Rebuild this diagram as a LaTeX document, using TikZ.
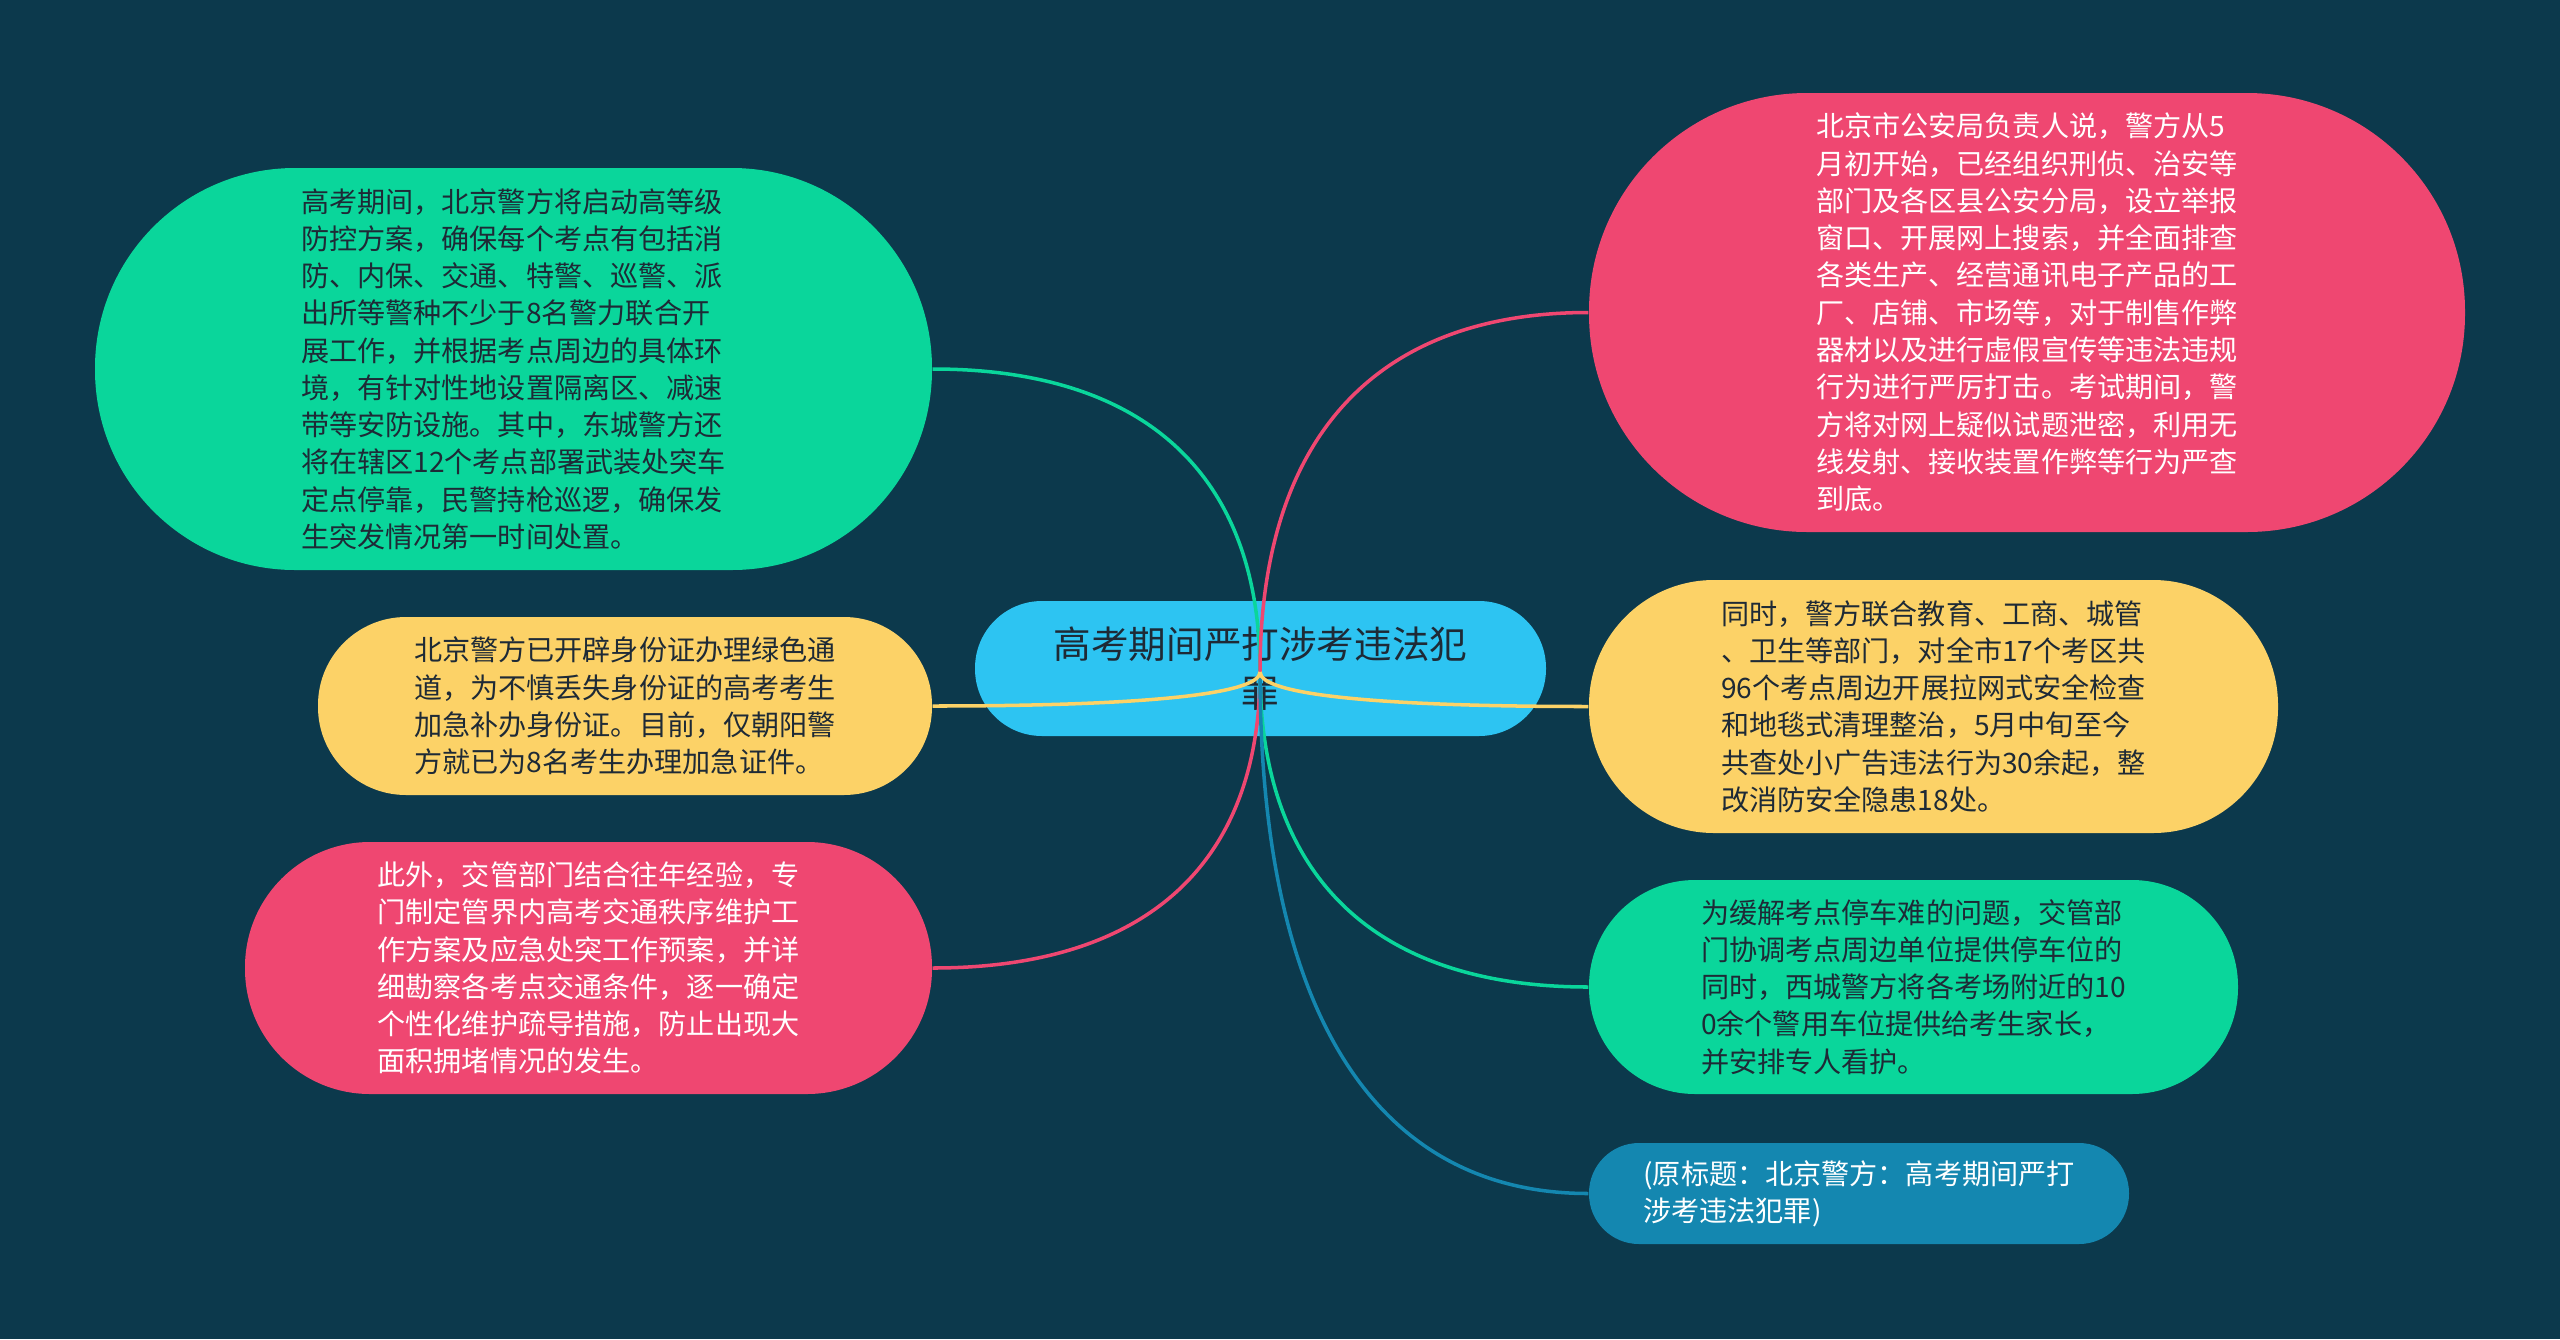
\documentclass[tikz,border=0pt]{standalone}
\usepackage{fontspec}
\newfontfamily\cjk{Noto Sans CJK SC}
\usetikzlibrary{positioning,calc}
\definecolor{bgteal}{RGB}{12,57,76}
\definecolor{mintgreen}{RGB}{10,214,155}
\definecolor{rosepink}{RGB}{239,71,113}
\definecolor{sunyellow}{RGB}{252,210,103}
\definecolor{skyblue}{RGB}{45,196,242}
\definecolor{seablue}{RGB}{20,135,176}
\definecolor{inkdark}{RGB}{30,42,54}

\tikzset{
  topic/.style={fill=skyblue, text=inkdark, rounded corners=0.67cm, minimum width=5.71cm,
    minimum height=1.35cm, align=center, inner sep=0pt, font=\cjk\fontsize{10.7}{14}\selectfont},
  leaf/.style={align=left, inner sep=0pt, font=\cjk\fontsize{8}{10.6}\selectfont},
  link/.style={line width=1pt},
  branch/.style={to path={.. controls ($(\tikztostart)!0.65!(\tikztostart |- \tikztotarget)$)
      and ($(\tikztotarget)!0.65!(\tikztostart |- \tikztotarget)$) .. (\tikztotarget)}},
}

\begin{document}
\begin{tikzpicture}
    \fill[bgteal] (0,0) rectangle (25.6,-13.39);
    \useasboundingbox (0,0) rectangle (25.6,-13.39);

    \node[topic] (topic) at (12.605,-6.685) {高考期间严打涉考违法犯\\罪};
    \coordinate (hub) at (12.60,-6.72);

    % left side
    \node[leaf, fill=mintgreen, text=inkdark, minimum width=8.37cm, minimum height=4.02cm, rounded corners=2cm] (fangkong) at (5.135,-3.69) {
        高考期间，北京警方将启动高等级\\
        防控方案，确保每个考点有包括消\\
        防、内保、交通、特警、巡警、派\\
        出所等警种不少于8名警力联合开\\
        展工作，并根据考点周边的具体环\\
        境，有针对性地设置隔离区、减速\\
        带等安防设施。其中，东城警方还\\
        将在辖区12个考点部署武装处突车\\
        定点停靠，民警持枪巡逻，确保发\\
        生突发情况第一时间处置。};
    \node[leaf, fill=sunyellow, text=inkdark, minimum width=6.14cm, minimum height=1.78cm, rounded corners=0.88cm] (shenfen) at (6.25,-7.06) {
        北京警方已开辟身份证办理绿色通\\
        道，为不慎丢失身份证的高考考生\\
        加急补办身份证。目前，仅朝阳警\\
        方就已为8名考生办理加急证件。};
    \node[leaf, fill=rosepink, text=white, minimum width=6.87cm, minimum height=2.52cm, rounded corners=1.25cm] (jiaoguan) at (5.885,-9.68) {
        此外，交管部门结合往年经验，专\\
        门制定管界内高考交通秩序维护工\\
        作方案及应急处突工作预案，并详\\
        细勘察各考点交通条件，逐一确定\\
        个性化维护疏导措施，防止出现大\\
        面积拥堵情况的发生。};

    % right side
    \node[leaf, fill=rosepink, text=white, minimum width=8.76cm, minimum height=4.39cm, rounded corners=2.18cm] (gongan) at (20.27,-3.125) {
        北京市公安局负责人说，警方从5\\
        月初开始，已经组织刑侦、治安等\\
        部门及各区县公安分局，设立举报\\
        窗口、开展网上搜索，并全面排查\\
        各类生产、经营通讯电子产品的工\\
        厂、店铺、市场等，对于制售作弊\\
        器材以及进行虚假宣传等违法违规\\
        行为进行严厉打击。考试期间，警\\
        方将对网上疑似试题泄密，利用无\\
        线发射、接收装置作弊等行为严查\\
        到底。};
    \node[leaf, fill=sunyellow, text=inkdark, minimum width=6.89cm, minimum height=2.53cm, rounded corners=1.25cm] (lianhe) at (19.335,-7.065) {
        同时，警方联合教育、工商、城管\\
        、卫生等部门，对全市17个考区共\\
        96个考点周边开展拉网式安全检查\\
        和地毯式清理整治，5月中旬至今\\
        共查处小广告违法行为30余起，整\\
        改消防安全隐患18处。};
    \node[leaf, fill=mintgreen, text=inkdark, minimum width=6.49cm, minimum height=2.14cm, rounded corners=1.06cm] (tingche) at (19.135,-9.87) {
        为缓解考点停车难的问题，交管部\\
        门协调考点周边单位提供停车位的\\
        同时，西城警方将各考场附近的10\\
        0余个警用车位提供给考生家长，\\
        并安排专人看护。};
    \node[leaf, fill=seablue, text=white, minimum width=5.40cm, minimum height=1.01cm, rounded corners=0.5cm] (biaoti) at (18.59,-11.935) {
        (原标题：北京警方：高考期间严打\\
        涉考违法犯罪)};

    % connectors
    \draw[link, mintgreen] (hub) to[branch] (fangkong.east);
    \draw[link, rosepink] (hub) to[branch] (jiaoguan.east);
    \draw[link, rosepink] (hub) to[branch] (gongan.west);
    \draw[link, mintgreen] (hub) to[branch] (tingche.west);
    \draw[link, seablue] (hub) to[branch] (biaoti.west);
    \draw[link, sunyellow] (hub) to[branch] (shenfen.east);
    \draw[link, sunyellow] (hub) to[branch] (lianhe.west);
\end{tikzpicture}
\end{document}
